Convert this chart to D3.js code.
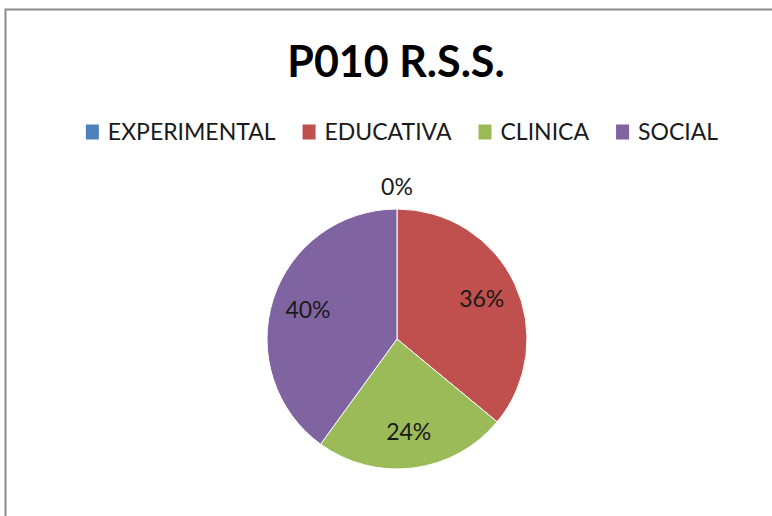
<!DOCTYPE html>
<html>
<head>
<meta charset="utf-8">
<script src="https://cdn.jsdelivr.net/npm/d3@7"></script>
<style>
  html, body { margin: 0; padding: 0; background: #ffffff; }
  svg { display: block; }
  text { font-family: Lato, "Open Sans", sans-serif; }
</style>
</head>
<body>
<svg id="chart" width="772" height="516"></svg>
<script>
// Chart data
const title = "P010 R.S.S.";
const categories = ["EXPERIMENTAL", "EDUCATIVA", "CLINICA", "SOCIAL"];
const values = [0, 36, 24, 40];
const colors = ["#4F81BD", "#C0504D", "#9BBB59", "#8064A2"];

const width = 772, height = 516;
const svg = d3.select("#chart");

// Frame of the chart area
svg.append("path")
  .attr("d", `M5.5,${height} L5.5,9.5 L${width},9.5`)
  .attr("fill", "none")
  .attr("stroke", "#8a8a8a")
  .attr("stroke-width", 2);

// Title
svg.append("text")
  .attr("x", 396)
  .attr("y", 77)
  .attr("text-anchor", "middle")
  .attr("font-size", 43)
  .attr("font-weight", 700)
  .attr("fill", "#000")
  .text(title);

// Legend
const color = d3.scaleOrdinal().domain(categories).range(colors);
const legendY = 132;
const sw = 13, sh = 15, gapText = 9, gapItem = 27;
const legend = svg.append("g");
const items = legend.selectAll("g.item").data(categories).join("g").attr("class", "item");
items.append("rect")
  .attr("width", sw).attr("height", sh)
  .attr("y", legendY - sh / 2)
  .attr("fill", d => color(d));
items.append("text")
  .attr("x", sw + gapText)
  .attr("y", legendY)
  .attr("dy", "0.36em")
  .attr("font-size", 23)
  .attr("fill", "#1a1a1a")
  .text(d => d);
let xPos = 0;
items.each(function () {
  const g = d3.select(this);
  g.attr("transform", `translate(${xPos},0)`);
  const w = sw + gapText + g.select("text").node().getComputedTextLength();
  xPos += w + gapItem;
});
const legendW = xPos - gapItem;
legend.attr("transform", `translate(${402 - legendW / 2},0)`);

// Pie
const cx = 397, cy = 339, R = 130;
const pie = d3.pie().sort(null).value(d => d.value);
const arcs = pie(categories.map((c, i) => ({ name: c, value: values[i] })));
const arc = d3.arc().innerRadius(0).outerRadius(R);
const labelArc = d3.arc().innerRadius(R * 0.72).outerRadius(R * 0.72);
const outerArc = d3.arc().innerRadius(R + 22).outerRadius(R + 22);
const total = d3.sum(values);

const g = svg.append("g").attr("transform", `translate(${cx},${cy})`);
g.selectAll("path.slice").data(arcs).join("path")
  .attr("class", "slice")
  .attr("d", arc)
  .attr("fill", d => color(d.data.name))
  .attr("stroke", "#ffffff")
  .attr("stroke-width", d => d.data.value > 0 ? 1 : 0);

g.selectAll("text.lbl").data(arcs).join("text")
  .attr("class", "lbl")
  .attr("transform", d => `translate(${(d.data.value > 0 ? labelArc : outerArc).centroid(d)})`)
  .attr("text-anchor", "middle")
  .attr("dy", "0.36em")
  .attr("font-size", 23)
  .attr("fill", "#1a1a1a")
  .text(d => Math.round(d.data.value / total * 100) + "%");
</script>
</body>
</html>
